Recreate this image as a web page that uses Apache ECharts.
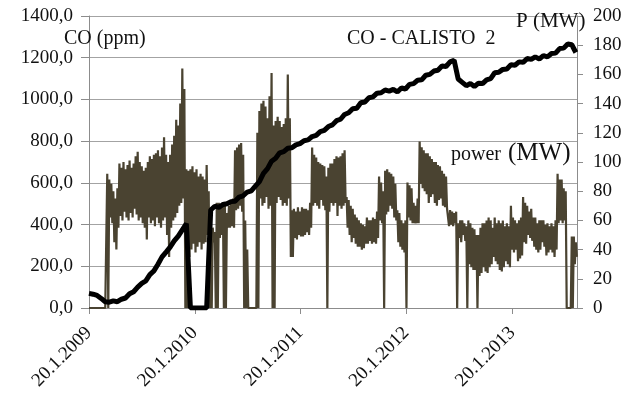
<!DOCTYPE html>
<html>
<head>
<meta charset="utf-8">
<title>CO - CALISTO 2</title>
<script src="https://cdn.jsdelivr.net/npm/echarts@6/dist/echarts.min.js"></script>
<style>
  html, body { margin: 0; padding: 0; background: #ffffff; }
  #chart { width: 634px; height: 403px; }
</style>
</head>
<body>
<div id="chart"></div>
<script>
// Time range of the record and the yearly tick dates
const startDate = '2009-01-20';
const endDate = '2013-08-31';
const yearTicks = ['2009-01-20', '2010-01-20', '2011-01-20', '2012-01-20', '2013-01-20'];
const yearLabels = ['20.1.2009', '20.1.2010', '20.1.2011', '20.1.2012', '20.1.2013'];

// CO concentration (ppm), one reading every 14 days from startDate
const coStepDays = 14;
const coValues = [
  70, 66, 60, 46, 30, 28, 34, 30, 42, 48,
  68, 78, 100, 118, 130, 160, 178, 210, 245, 268,
  292, 322, 345, 375, 405,
  0, 0, 0, 0, 0,
  470, 488, 482, 496, 500, 510, 512, 532, 538, 556,
  562, 584, 606, 645, 668, 704, 718, 744, 750, 766,
  768, 782, 788, 802, 806, 822, 828, 846, 852, 870,
  878, 898, 905, 928, 936, 955, 958, 984, 988, 1008,
  1012, 1030, 1032, 1045, 1040, 1048, 1036, 1055, 1050, 1072,
  1076, 1092, 1094, 1116, 1120, 1136, 1140, 1160, 1158, 1180,
  1188,
  1098, 1082, 1066, 1076, 1062, 1078, 1076, 1094, 1100,
  1128, 1130, 1144, 1146, 1166, 1164, 1180, 1178, 1196, 1192,
  1204, 1194, 1210, 1204, 1220, 1222, 1244, 1246, 1266, 1262,
  1225
];

// Unit power (MW): weekly highest and lowest readings from startDate
const powerStepDays = 7;
const powerHigh = [
  0, 0, 0, 0, 0, 0, 0, 0, 0,
  92,
  88, 85, 80, 75, 82,
  99, 96, 100, 95, 98, 101, 96, 99, 104, 107, 100, 97, 94, 96,
  100, 104, 102, 105, 106, 108, 104, 110, 117, 105, 100,
  105, 112, 118, 129, 125, 140, 164, 150,
  95,
  94, 95, 97, 93, 95, 90, 92, 90, 88, 98, 80,
  50, 55, 52, 72,
  72, 70, 72, 70, 65,
  70, 72, 75,
  108, 110, 112, 113, 105,
  60, 40, 0, 0, 0, 0,
  120, 135, 140, 142, 138, 130, 145, 161,
  125,
  128, 131, 128, 124, 126, 130, 160, 130,
  67, 68, 66, 69, 66,
  69, 68, 68, 67, 72,
  110, 105,
  103, 100, 99, 98, 97,
  90,
  96, 99, 99, 102, 104, 103, 104, 106, 108,
  76, 74, 70, 68, 64, 62, 60, 58, 57, 56,
  62, 60, 60, 62, 61, 66,
  90, 86,
  80,
  94, 95, 93, 92, 90, 85,
  67, 65, 60, 58,
  60,
  86, 84, 82, 72,
  70, 75,
  114, 110,
  108, 106, 106, 104, 102, 100, 100, 98, 97, 94, 92, 90,
  68, 67, 66, 65,
  66,
  58, 60, 60, 58,
  56,
  60, 58, 55, 54,
  50,
  50, 55, 58, 58, 60, 62, 60, 55, 62, 58, 60, 58, 60, 56, 58, 56,
  70, 62, 60,
  58, 60, 62,
  76, 72, 70, 66, 68,
  62, 62, 58, 60, 60, 60, 57, 58, 56, 58, 56, 60,
  92, 88, 88,
  82, 80,
  0, 0, 49,
  49, 45
];
const powerLow = [
  0, 0, 0, 0, 0, 0, 0, 0, 0,
  0,
  62, 58, 45, 40, 55,
  63, 60, 66, 62, 60, 65, 62, 68, 64, 60, 62, 58, 55, 47,
  62, 58, 60, 56, 62, 58, 55, 60, 62, 50, 35,
  55, 60, 62, 65, 70, 72, 75, 0,
  0,
  35, 40, 44, 38, 42, 45, 40, 44, 45, 50, 0,
  0, 45, 0, 0,
  48, 50, 0, 0, 55,
  55, 56, 55,
  67, 68, 70, 66, 0,
  0, 0, 0, 0, 0, 0,
  0, 75, 70, 72, 76, 68, 70, 0,
  0,
  72, 76, 74, 70, 72, 70, 75, 35,
  35, 48, 47, 50, 49,
  49, 50, 52, 50, 55,
  70, 72,
  70, 68, 74, 70, 67,
  0,
  66, 72, 70, 72, 63, 70, 68, 70, 72,
  55, 50, 45, 48, 44, 42, 42, 40, 41, 44,
  44, 46, 44, 45, 44, 48,
  60, 58,
  0,
  64, 66, 70, 68, 62, 60,
  45, 42, 40, 38,
  0,
  62, 60, 58, 58,
  58, 58,
  85, 82,
  80, 78, 72, 76, 78, 72, 70, 74, 75, 70, 69, 68,
  56, 57, 56, 58,
  0,
  48, 45, 50, 46,
  0,
  30, 28, 26, 26,
  0,
  22, 24, 28, 25, 24, 28, 30, 35, 32, 30, 26, 25, 28, 32, 30, 28,
  40, 38, 40,
  32, 34, 36,
  45, 44, 50, 48, 46,
  42, 40, 38, 40, 45, 42, 36, 38, 40, 38, 35, 40,
  58, 60, 58,
  60, 0,
  0, 0, 0,
  30, 35
];

// The x axis counts days from startDate
const DAY = 86400000;
const toDay = s => Math.round((Date.parse(s + 'T00:00:00Z') - Date.parse(startDate + 'T00:00:00Z')) / DAY);
const coData = coValues.map((v, i) => [i * coStepDays, v]);
// Each week is traced from its highest to its lowest reading
const powerData = [];
powerHigh.forEach((h, i) => {
  powerData.push([i * powerStepDays, h]);
  powerData.push([i * powerStepDays + powerStepDays / 2, powerLow[i]]);
});
const tickDays = yearTicks.map(toDay);

const serif = '"Liberation Serif", "Times New Roman", serif';
const axisGray = '#8c8c8c';
const textColor = '#111111';

const chart = echarts.init(document.getElementById('chart'), null, { renderer: 'canvas' });

chart.setOption({
  animation: false,
  backgroundColor: '#ffffff',
  grid: { left: 89, right: 57, top: 16, bottom: 95, containLabel: false },
  xAxis: {
    type: 'value',
    min: 0,
    max: toDay(endDate),
    axisLine: { show: true, onZero: false, lineStyle: { color: axisGray, width: 1 } },
    axisTick: {
      show: true, length: 6, inside: false,
      customValues: tickDays,
      lineStyle: { color: axisGray }
    },
    axisLabel: {
      customValues: tickDays,
      rotate: 45,
      margin: 22,
      fontFamily: serif,
      fontSize: 19,
      color: textColor,
      formatter: v => {
        const k = tickDays.indexOf(Math.round(v));
        return k >= 0 ? yearLabels[k] : '';
      }
    },
    splitLine: { show: false }
  },
  yAxis: [
    {
      type: 'value',
      position: 'left',
      min: 0, max: 1400, interval: 200,
      axisLine: { show: true, lineStyle: { color: axisGray } },
      axisTick: { show: true, length: 8, lineStyle: { color: axisGray } },
      axisLabel: {
        margin: 16,
        fontFamily: serif,
        fontSize: 19,
        color: textColor,
        formatter: v => v.toFixed(1).replace('.', ',')
      },
      splitLine: { show: true, lineStyle: { color: '#a3a3a3', width: 1 } }
    },
    {
      type: 'value',
      position: 'right',
      min: 0, max: 200, interval: 20,
      axisLine: { show: true, lineStyle: { color: axisGray } },
      axisTick: { show: true, length: 6, lineStyle: { color: axisGray } },
      axisLabel: {
        margin: 16,
        fontFamily: serif,
        fontSize: 19,
        color: textColor
      },
      splitLine: { show: false }
    }
  ],
  series: [
    {
      name: 'power',
      type: 'line',
      yAxisIndex: 1,
      data: powerData,
      showSymbol: false,
      symbol: 'none',
      z: 2,
      lineStyle: { color: '#4a4331', width: 2.2 }
    },
    {
      name: 'CO',
      type: 'line',
      yAxisIndex: 0,
      data: coData,
      showSymbol: false,
      symbol: 'none',
      z: 3,
      lineStyle: { color: '#000000', width: 5 }
    }
  ],
  graphic: [
    { type: 'text', left: 64, top: 29, z: 10,
      style: { text: 'CO (ppm)', font: '20px ' + serif, fill: textColor } },
    { type: 'text', left: 347, top: 29, z: 10,
      style: { text: 'CO - CALISTO  2', font: '20px ' + serif, fill: textColor } },
    { type: 'text', left: 516, top: 11, z: 10,
      style: { text: 'P (MW)', font: '21px ' + serif, fill: textColor } },
    { type: 'text', left: 451, top: 145, z: 10,
      style: { text: 'power', font: '20px ' + serif, fill: textColor } },
    { type: 'text', left: 508, top: 141, z: 10,
      style: { text: '(MW)', font: '25px ' + serif, fill: textColor } }
  ]
});
</script>
</body>
</html>
